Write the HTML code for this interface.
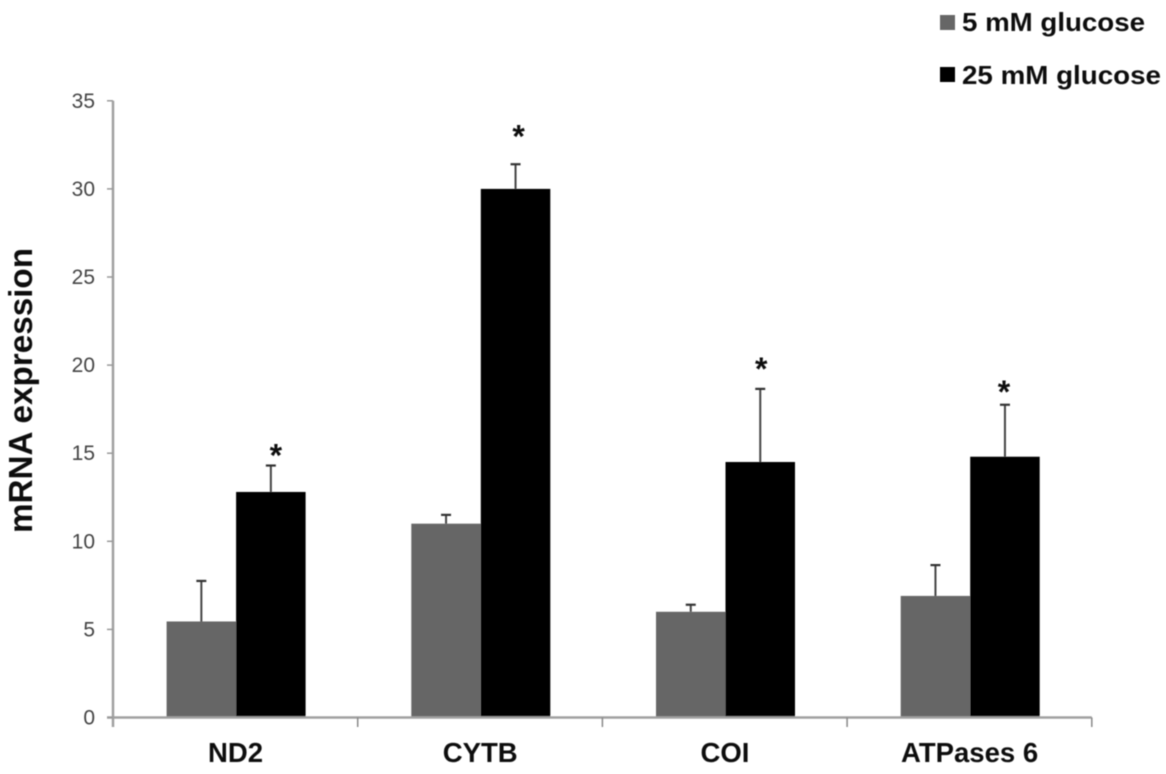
<!DOCTYPE html>
<html>
<head>
<meta charset="utf-8">
<style>
html,body{margin:0;padding:0;background:#fff;width:1166px;height:774px;overflow:hidden}
svg{display:block}
text{font-family:"Liberation Sans",Arial,sans-serif}
</style>
</head>
<body>
<svg id="chart" xmlns="http://www.w3.org/2000/svg" width="1166" height="774" viewBox="0 0 1166 774">
  <defs><filter id="soft" x="-5%" y="-5%" width="110%" height="110%"><feGaussianBlur stdDeviation="0.6"/></filter></defs>
  <g id="root" filter="url(#soft)">
    <rect x="940" y="15" width="15" height="15" fill="#666"/>
    <text x="962" y="31" font-size="26" font-weight="bold" fill="#111" textLength="183" lengthAdjust="spacingAndGlyphs">5 mM glucose</text>
    <rect x="940" y="67" width="15" height="15" fill="#000"/>
    <text x="962" y="84" font-size="26" font-weight="bold" fill="#111" textLength="199" lengthAdjust="spacingAndGlyphs">25 mM glucose</text>
    <text transform="translate(32,533) rotate(-90)" font-size="33" font-weight="bold" fill="#111" textLength="285" lengthAdjust="spacingAndGlyphs">mRNA expression</text>
  </g>
</svg>
<script>
const categories = ["ND2", "CYTB", "COI", "ATPases 6"];
const lowGlucose = [5.45, 11, 6, 6.9];
const highGlucose = [12.8, 30, 14.5, 14.8];
const lowGlucoseErrorTop = [7.75, 11.5, 6.4, 8.65];
const highGlucoseErrorTop = [14.3, 31.4, 18.65, 17.75];
const significanceMarks = [15.1, 33.2, 20, 18.7];
const yTicks = [0, 5, 10, 15, 20, 25, 30, 35];

const NS = "http://www.w3.org/2000/svg";
const root = document.getElementById("root");
const yScale = v => 717.5 - v * (616.7 / 35);
const groupLeft = i => 113 + i * 244.7;
const barWidth = 69.5;
const barLeft = (i, s) => groupLeft(i) + 53.6 + s * barWidth;

function make(tag, props, parent) {
  const el = document.createElementNS(NS, tag);
  for (const k in props) el.setAttribute(k, props[k]);
  (parent || root).appendChild(el);
  return el;
}

categories.forEach((cat, i) => {
  [lowGlucose, highGlucose].forEach((series, s) => {
    const top = yScale(series[i]);
    const bar = make("rect", {x: barLeft(i, s), y: top, width: barWidth, height: yScale(0) - top, fill: s ? "#000" : "#666"});
    
    
  });
  [lowGlucoseErrorTop, highGlucoseErrorTop].forEach((series, s) => {
    const base = s ? highGlucose[i] : lowGlucose[i];
    const cx = barLeft(i, s) + barWidth / 2;
    const stem = make("line", {x1: cx, x2: cx, y1: yScale(base), y2: yScale(series[i]), stroke: "#444", "stroke-width": 2});
    
    
    const cap = make("line", {x1: cx - 5, x2: cx + 5, y1: yScale(series[i]), y2: yScale(series[i]), stroke: "#333", "stroke-width": 2.2});
    
    
  });
  const star = make("text", {x: barLeft(i, 1) + barWidth / 2 + 5 - i * 2, y: yScale(significanceMarks[i]) + 15, "font-size": 32, "font-weight": "bold", "text-anchor": "middle", fill: "#111"});
  star.textContent = "*";
  
  
  const label = make("text", {x: groupLeft(i) + 122.5, y: 762, "font-size": 27.5, "font-weight": "bold", "text-anchor": "middle", fill: "#111"});
  label.textContent = cat;
  
  
});

const yAxis = make("line", {x1: 113, x2: 113, y1: yScale(35), y2: 727, stroke: "#a0a0a0", "stroke-width": 2.5});


const xAxis = make("line", {x1: 107, x2: groupLeft(categories.length), y1: yScale(0), y2: yScale(0), stroke: "#a0a0a0", "stroke-width": 2.5});



yTicks.forEach(t => {
  const tick = make("line", {x1: 107, x2: 113, y1: yScale(t), y2: yScale(t), stroke: "#999", "stroke-width": 1.5});
  
  
  const lab = make("text", {x: 95, y: yScale(t) + 7, "font-size": 21, "text-anchor": "end", fill: "#444"});
  lab.textContent = t;
  
  
});
for (let i = 1; i <= categories.length; i++) {
  const tick = make("line", {x1: groupLeft(i), x2: groupLeft(i), y1: yScale(0), y2: 727, stroke: "#888", "stroke-width": 1.5});
  
  
}
</script>
</body>
</html>
